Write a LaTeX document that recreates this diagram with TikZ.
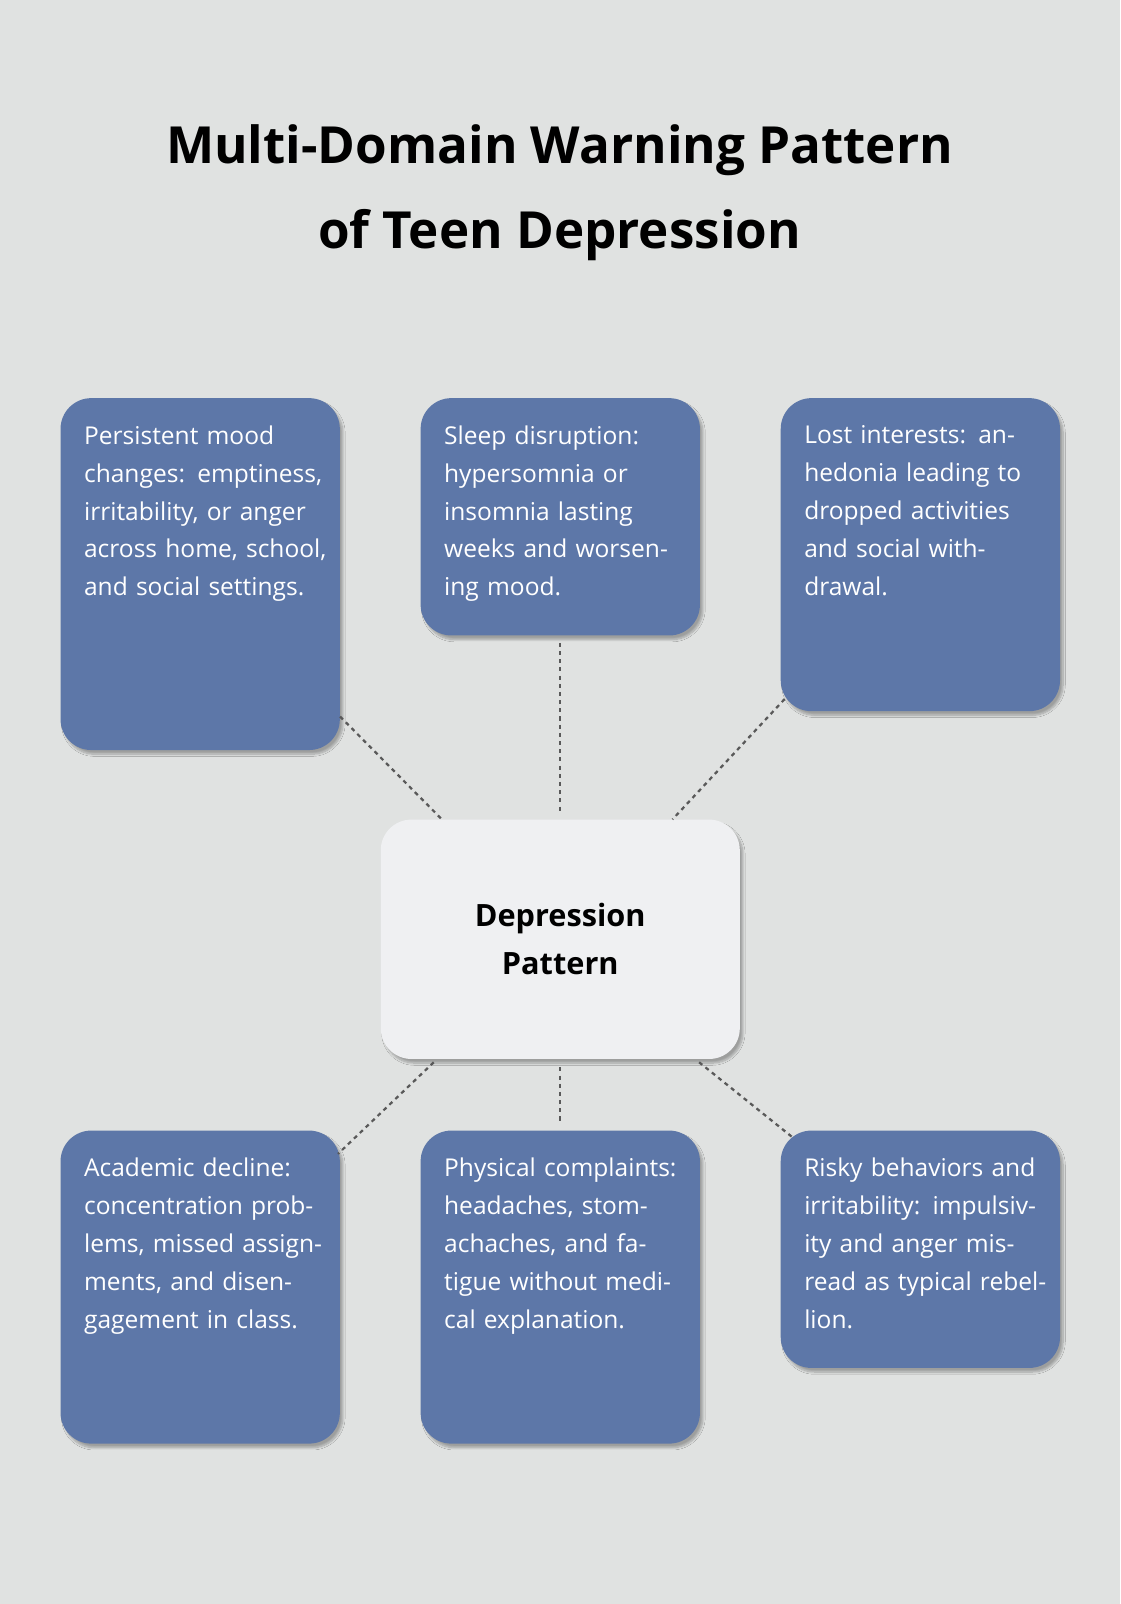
\documentclass[tikz,border=0pt]{standalone}
\usepackage{fontspec}
\setmainfont{Open Sans}
\usetikzlibrary{calc,shadows.blur}
\definecolor{bg}{HTML}{E0E2E1}
\definecolor{boxc}{HTML}{5D77A8}
\definecolor{cen}{HTML}{EFF0F2}
\tikzset{
 card/.style={draw=none,fill=boxc,rounded corners=30pt,anchor=north west,inner sep=0pt,blur shadow={shadow blur steps=8,shadow xshift=3pt,shadow yshift=-4pt,shadow opacity=30}},
 txt/.style={anchor=north west,text=white,align=left,text width=240pt,inner sep=0pt,font=\fontsize{24}{37}\selectfont},
 conn/.style={draw=black!65,line width=2.2pt,dash pattern=on 4pt off 4pt}
}
\begin{document}
\begin{tikzpicture}[x=1pt,y=-1pt]
\fill[bg] (0,0) rectangle (1095,1568);
\useasboundingbox (0,0) rectangle (1095,1568);
\node[font=\fontsize{50}{83}\selectfont\bfseries,align=center] (title) at (547,188) {Multi-Domain Warning Pattern\\of Teen Depression};
\newcommand\card[5]{\node[card,minimum width=#4pt,minimum height=#5pt] (#1) at (#2,#3) {};
}
\card{tl}{59}{389}{273}{344}
\card{tm}{411}{389}{273}{232}
\card{tr}{763}{389}{273}{306}
\card{bl}{59}{1105}{273}{306}
\card{bm}{411}{1105}{273}{306}
\card{br}{763}{1105}{273}{232}
\node[card,fill=cen,minimum width=351pt,minimum height=234pt] (c) at (372,801) {};
\node[font=\fontsize{30}{47}\selectfont\bfseries,align=center] (ct) at (c.center) {Depression\\Pattern};
\node[txt] (t1) at ($(tl.north west)+(23,27)$) {Persistent mood changes: emptiness, irritability, or anger across home, school, and social settings.};
\node[txt] (t2) at ($(tm.north west)+(23,27)$) {Sleep disruption: hypersomnia or insomnia lasting weeks and worsening mood.};
\node[txt,text width=230pt] (t3) at ($(tr.north west)+(23,27)$) {Lost interests: anhedonia leading to dropped activities and social withdrawal.};
\node[txt] (t4) at ($(bl.north west)+(23,27)$) {Academic decline: concentration problems, missed assignments, and disengagement in class.};
\node[txt] (t5) at ($(bm.north west)+(23,27)$) {Physical complaints: headaches, stomachaches, and fatigue without medical explanation.};
\node[txt] (t6) at ($(br.north west)+(23,27)$) {Risky behaviors and irritability: impulsivity and anger misread as typical rebellion.};
\draw[conn] ($(tl.south east)+(0,-33)$) -- ($(c.north west)+(60,0)$);
\draw[conn] ($(tm.south)+(0,7)$) -- ($(c.north)+(0,-6)$);
\draw[conn] ($(tr.south west)+(4,-12)$) -- ($(c.north east)+(-66,0)$);
\draw[conn] ($(c.south west)+(52,3)$) -- ($(bl.north east)+(-2,23)$);
\draw[conn] ($(c.south)+(0,8)$) -- ($(bm.north)+(0,-7)$);
\draw[conn] ($(c.south east)+(-40,3)$) -- ($(br.north west)+(12,7)$);
\end{tikzpicture}
\end{document}
